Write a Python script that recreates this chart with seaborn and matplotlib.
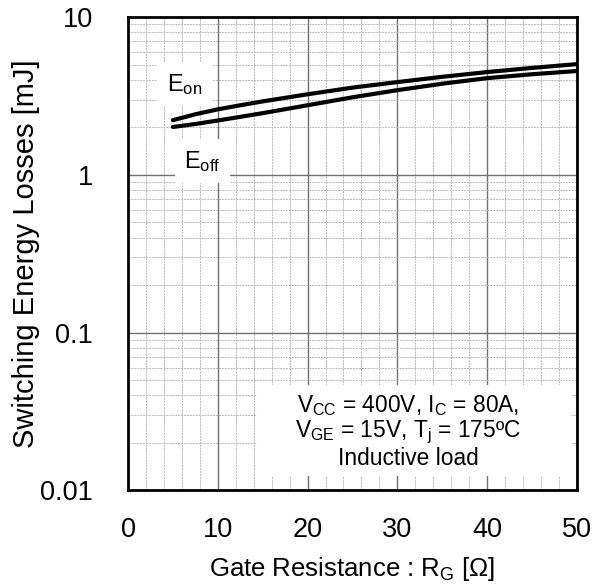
"""Switching energy losses vs gate resistance (IGBT datasheet style)."""

import matplotlib
matplotlib.use("Agg")
import matplotlib.pyplot as plt
import matplotlib.ticker as mticker
from matplotlib.patches import Rectangle
import numpy as np
import pandas as pd
import seaborn as sns

# values
rg_ohm = [5, 7.5, 10, 12.5, 15, 20, 25, 30, 35, 40, 45, 50]
e_on = [2.22, 2.42, 2.60, 2.76, 2.92, 3.24, 3.57, 3.87, 4.18, 4.48, 4.76, 5.03]
e_off = [2.01, 2.10, 2.21, 2.33, 2.46, 2.76, 3.10, 3.44, 3.78, 4.10, 4.34, 4.55]

df = pd.DataFrame({
    "rg": rg_ohm * 2,
    "energy": e_on + e_off,
    "curve": ["Eon"] * len(rg_ohm) + ["Eoff"] * len(rg_ohm),
})

sns.set_style("white")
plt.rcParams["font.family"] = ["Liberation Sans", "DejaVu Sans"]
plt.rcParams["mathtext.fontset"] = "custom"
plt.rcParams["mathtext.rm"] = "Liberation Sans"
plt.rcParams["mathtext.it"] = "Liberation Sans"
for key in ("text.color", "axes.labelcolor", "xtick.color", "ytick.color"):
    plt.rcParams[key] = "black"

fig, ax = plt.subplots(figsize=(6.04, 5.88), dpi=100)
fig.subplots_adjust(left=0.212, right=0.955, top=0.971, bottom=0.166)

ax.set_yscale("log")
ax.set_xlim(0, 50)
ax.set_ylim(0.01, 10)

# grid: solid majors, dashed minors
ax.xaxis.set_major_locator(mticker.MultipleLocator(10))
ax.xaxis.set_minor_locator(mticker.MultipleLocator(2))
ax.yaxis.set_major_locator(mticker.LogLocator(base=10))
ax.yaxis.set_minor_locator(mticker.LogLocator(base=10, subs=np.arange(2, 10)))
ax.yaxis.set_major_formatter(mticker.FuncFormatter(lambda v, _: f"{v:g}"))
ax.yaxis.set_minor_formatter(mticker.NullFormatter())
ax.grid(which="major", color="#707070", linestyle="-", linewidth=1.0)
ax.grid(which="minor", color="#b8b8b8", linestyle=(0, (2, 1)), linewidth=0.7)
ax.set_axisbelow(True)

sns.lineplot(data=df, x="rg", y="energy", hue="curve", palette=["black", "black"],
             linewidth=3, legend=False, ax=ax, zorder=3)

for side in ax.spines.values():
    side.set_color("black")
    side.set_linewidth(2)
ax.tick_params(which="both", length=0, labelsize=19.5)
ax.tick_params(axis="y", pad=25)
ax.tick_params(axis="x", pad=19)

ax.set_xlabel(r"Gate Resistance : R$_\mathregular{G}$ [Ω]", fontsize=18.5, labelpad=9)
ax.set_ylabel("Switching Energy Losses [mJ]", fontsize=21, labelpad=0)

# curve labels sit on white patches, under the curves
box = dict(facecolor="white", edgecolor="none", pad=7)
ax.text(6.3, 3.75, r"E$_\mathregular{on}$", fontsize=17, ha="center", va="center", bbox=box, zorder=2.5)
ax.text(8.3, 1.22, r"E$_\mathregular{off}$", fontsize=17, ha="center", va="center", bbox=box, zorder=2.5)

# white panel behind the test conditions
ax.add_patch(Rectangle((0.287, 0.030), 0.702, 0.192, transform=ax.transAxes,
                       facecolor="white", edgecolor="none", zorder=2))
cond = ("V$_\\mathregular{CC}$ = 400V, I$_\\mathregular{C}$ = 80A,\n"
        "V$_\\mathregular{GE}$ = 15V, T$_\\mathregular{j}$ = 175ºC\n"
        "Inductive load")
ax.text(31.2, 0.0237, cond, fontsize=16.4, ha="center", va="center", linespacing=1.05,
        zorder=4)

fig.savefig("out.png", dpi=100)
